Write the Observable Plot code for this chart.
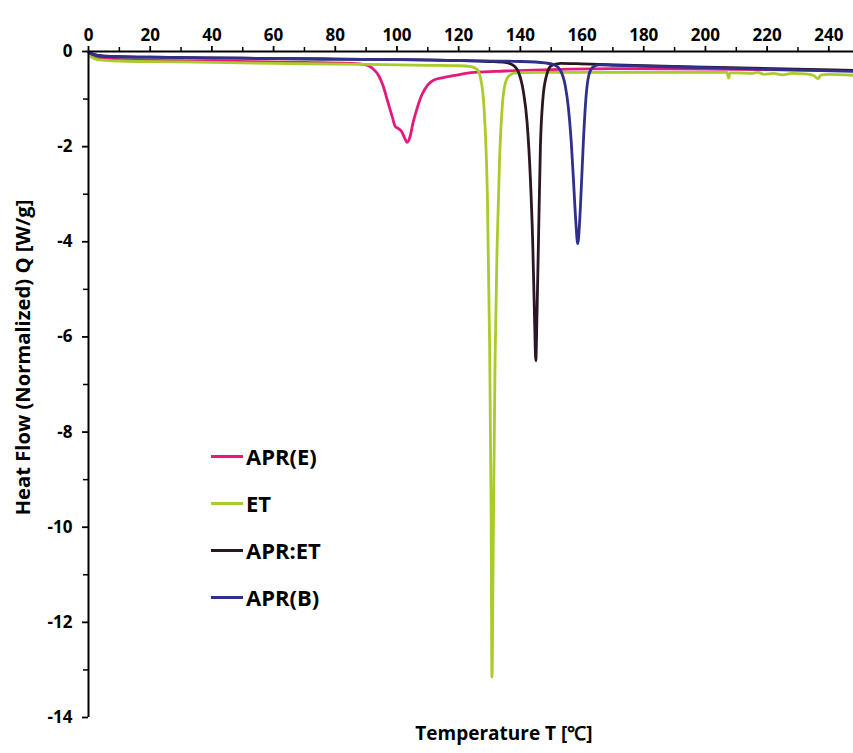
<!DOCTYPE html>
<html><head><meta charset="utf-8">
<script src="https://cdn.jsdelivr.net/npm/d3@7"></script>
<script src="https://cdn.jsdelivr.net/npm/@observablehq/plot@0.6"></script>
<style>
body{margin:0;background:#fff;font-family:"Open Sans",sans-serif;}
#wrap{position:relative;width:853px;height:753px;}
.leg{position:absolute;left:211px;display:flex;align-items:center;font-weight:700;font-size:22px;color:#000;}
.leg span.sw{display:inline-block;width:32px;height:3px;margin-right:3px;}
</style></head>
<body><div id="wrap"></div>
<script>
const seriesNames = ["APR(E)", "ET", "APR:ET", "APR(B)"];
const seriesColors = ["#e5197b", "#a9cb2b", "#2b1622", "#2f2f8c"];

const aprE_T = [0, 2, 10, 40, 70, 85, 90, 92, 94, 95.5, 97, 98.5, 99.5, 100.5, 101.5, 102.5, 103.3, 104.2, 105.2, 106.5, 108, 110, 112, 115, 119, 125, 135, 150, 170, 200, 248];
const aprE_Q = [0, -0.13, -0.17, -0.2, -0.23, -0.25, -0.28, -0.35, -0.5, -0.72, -1.05, -1.38, -1.58, -1.62, -1.68, -1.82, -1.91, -1.8, -1.5, -1.2, -0.92, -0.7, -0.6, -0.55, -0.5, -0.44, -0.41, -0.38, -0.36, -0.37, -0.4];

const et_T = [0, 1, 3, 10, 30, 60, 90, 110, 120, 124, 126, 127.5, 128.5, 129.3, 130, 130.5, 130.8, 131.2, 131.8, 132.5, 133.3, 134.2, 135.2, 136.5, 138.5, 145, 160, 180, 200, 207, 207.5, 208, 210, 215, 217, 219, 222, 225, 228, 232, 235, 236.5, 237.5, 240, 248];
const et_Q = [0, -0.12, -0.17, -0.2, -0.22, -0.25, -0.27, -0.29, -0.3, -0.32, -0.38, -0.7, -1.5, -3.0, -6.0, -9.5, -13.15, -10.5, -6.5, -4.0, -2.2, -1.1, -0.65, -0.5, -0.45, -0.44, -0.44, -0.44, -0.44, -0.44, -0.56, -0.45, -0.45, -0.46, -0.44, -0.48, -0.46, -0.49, -0.46, -0.47, -0.5, -0.57, -0.49, -0.48, -0.5];

const aprET_T = [0, 1, 5, 20, 50, 80, 100, 120, 130, 135, 137.5, 139.5, 141, 142.2, 143.2, 144, 144.6, 145, 145.4, 145.9, 146.5, 147.3, 148.5, 150, 153, 160, 180, 200, 248];
const aprET_Q = [0, -0.05, -0.1, -0.12, -0.14, -0.16, -0.17, -0.19, -0.21, -0.23, -0.28, -0.45, -0.85, -1.5, -2.6, -4.0, -5.6, -6.5, -5.5, -3.9, -2.0, -1.0, -0.5, -0.3, -0.25, -0.26, -0.3, -0.33, -0.4];

const aprB_T = [0, 1, 5, 20, 50, 80, 100, 120, 140, 148, 151, 153, 154.5, 155.6, 156.5, 157.3, 158, 158.6, 159.2, 159.8, 160.5, 161.3, 162.2, 163.5, 165.5, 170, 200, 248];
const aprB_Q = [0, -0.05, -0.1, -0.12, -0.14, -0.16, -0.17, -0.19, -0.21, -0.24, -0.28, -0.4, -0.7, -1.2, -1.9, -2.8, -3.6, -4.04, -3.6, -2.8, -1.8, -0.95, -0.5, -0.33, -0.28, -0.29, -0.34, -0.42];

const xMajor = d3.range(0, 250, 20);
const xMinor = d3.range(10, 250, 20);
const yMajor = d3.range(-14, 1, 2);
const yMinor = d3.range(-13, 0, 2);

const xTitle = "Temperature T [℃]";
const yTitle = "Heat Flow (Normalized) Q [W/g]";

const allT = [aprE_T, et_T, aprET_T, aprB_T];
const allQ = [aprE_Q, et_Q, aprET_Q, aprB_Q];
const rows = [];
seriesNames.forEach((name, i) => {
  allT[i].forEach((t, j) => rows.push({series: name, T: t, Q: allQ[i][j]}));
});

const chart = Plot.plot({
  width: 853,
  height: 753,
  marginTop: 51,
  marginBottom: 36,
  marginLeft: 88,
  marginRight: 0,
  style: {fontFamily: "'Open Sans', sans-serif", fontWeight: 700, fontSize: "17px", color: "#000", background: "#fff"},
  x: {domain: [0, 248]},
  y: {domain: [-14, 0]},
  color: {domain: seriesNames, range: seriesColors},
  marks: [
    Plot.axisX({anchor: "top", ticks: xMajor, tickSize: 6, tickPadding: 5, strokeWidth: 1.8, label: null, fontSize: 17}),
    Plot.axisX({anchor: "top", ticks: xMinor, tickSize: 5, tickFormat: () => "", strokeWidth: 1.5, label: null}),
    Plot.axisY({anchor: "left", ticks: yMajor, tickSize: 6, tickPadding: 10, strokeWidth: 1.8, tickFormat: d => String(d), label: null, fontSize: 17}),
    Plot.axisY({anchor: "left", ticks: yMinor, tickSize: 5, tickFormat: () => "", strokeWidth: 1.5, label: null}),
    Plot.line(rows, {x: "T", y: "Q", z: "series", stroke: "series", strokeWidth: 2.8, curve: "monotone-x"}),
    Plot.ruleY([0], {stroke: "#000", strokeWidth: 2}),
    Plot.ruleX([0], {stroke: "#000", strokeWidth: 2}),
    Plot.text([xTitle], {frameAnchor: "bottom", dx: 33, dy: 22, fontSize: 19, fontWeight: 700, fill: "#000"}),
    Plot.text([yTitle], {frameAnchor: "left", textAnchor: "middle", rotate: -90, dx: -65, dy: -27, fontSize: 20.2, fontWeight: 700, fill: "#000"})
  ]
});
const wrap = document.getElementById("wrap");
wrap.appendChild(chart);
const legY = [456, 503, 550, 597];
seriesNames.forEach((name, i) => {
  const d = document.createElement("div");
  d.className = "leg";
  d.style.top = (legY[i] - 16) + "px";
  d.style.height = "32px";
  d.innerHTML = `<span class="sw" style="background:${seriesColors[i]}"></span>${name}`;
  wrap.appendChild(d);
});
</script></body></html>
